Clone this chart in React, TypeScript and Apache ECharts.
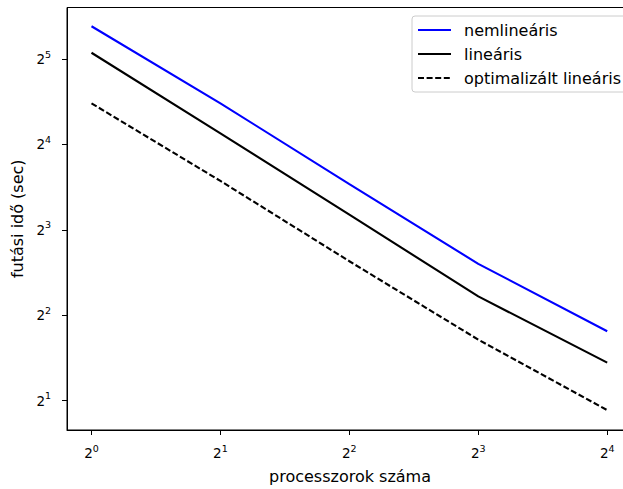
import React, { useEffect, useRef } from "react";
import * as echarts from "echarts";

const processors = [1, 2, 4, 8, 16];
const nemlinearis = [41.8, 22.35, 11.6, 6.07, 3.51];
const linearis = [33.7, 17.5, 9.05, 4.66, 2.72];
const optimalizalt = [22.35, 11.9, 6.2, 3.28, 1.85];
const xTicks = [1, 2, 4, 8, 16];
const yTicks = [2, 4, 8, 16, 32];
const seriesNames = ["nemlineáris", "lineáris", "optimalizált lineáris"];

const powLabel = (v: number) => {
  const e = Math.round(Math.log2(v));
  return "{b|2}{s|" + e + "}";
};

const FONT = "DejaVu Sans";
const richPow = {
  b: { fontFamily: FONT, fontSize: 13.5, color: "#000", lineHeight: 20, verticalAlign: "middle" },
  s: { fontFamily: FONT, fontSize: 9.5, color: "#000", lineHeight: 7, verticalAlign: "top" },
};

export default function App() {
  const ref = useRef<HTMLDivElement>(null);
  useEffect(() => {
    if (!ref.current) return;
    const chart = echarts.init(ref.current, null, { renderer: "svg" });
    const toPairs = (ys: number[]) => processors.map((x, i) => [x, ys[i]]);
    const axisCommon = {
      type: "log" as const,
      logBase: 2,
      splitLine: { show: false },
      axisLine: { show: true, lineStyle: { color: "#000", width: 1 } },
      axisTick: { show: true, length: 5, lineStyle: { color: "#000", width: 1 } },
      nameLocation: "middle" as const,
      nameTextStyle: { fontFamily: FONT, fontSize: 16, color: "#000" },
    };
    chart.setOption({
      animation: false,
      textStyle: { fontFamily: FONT },
      grid: {
        left: 67,
        top: 7.5,
        width: 566,
        height: 423.5,
        show: true,
        borderColor: "#000",
        borderWidth: 1,
        backgroundColor: "transparent",
      },
      legend: {
        orient: "vertical",
        left: 412,
        top: 16,
        itemWidth: 33,
        itemHeight: 16,
        itemGap: 8,
        padding: [6, 8, 6, 5],
        backgroundColor: "rgba(255,255,255,0.8)",
        borderColor: "#cccccc",
        borderWidth: 1,
        borderRadius: 3,
        itemStyle: { opacity: 0 },
        textStyle: {
          fontFamily: FONT,
          fontSize: 16,
          color: "#000",
          padding: [0, 0, 0, 8],
        },
        data: seriesNames,
      },
      xAxis: {
        ...axisCommon,
        min: Math.pow(2, -0.19),
        max: Math.pow(2, 4.2),
        name: "processzorok száma",
        nameGap: 38,
        axisTick: { ...axisCommon.axisTick, customValues: xTicks },
        axisLabel: {
          customValues: xTicks,
          formatter: (v: number) => powLabel(v),
          margin: 13,
          rich: richPow,
        },
      },
      yAxis: {
        ...axisCommon,
        min: Math.pow(2, 0.655),
        max: Math.pow(2, 5.605),
        name: "futási idő (sec)",
        nameGap: 40,
        axisTick: { ...axisCommon.axisTick, customValues: yTicks },
        axisLabel: {
          customValues: yTicks,
          formatter: (v: number) => powLabel(v),
          margin: 16,
          rich: richPow,
        },
      },
      series: [
        {
          name: seriesNames[0],
          type: "line",
          data: toPairs(nemlinearis),
          symbol: "none",
          lineStyle: { color: "#0000ff", width: 2.1 },
          itemStyle: { color: "#0000ff" },
        },
        {
          name: seriesNames[1],
          type: "line",
          data: toPairs(linearis),
          symbol: "none",
          lineStyle: { color: "#000000", width: 2.1 },
          itemStyle: { color: "#000000" },
        },
        {
          name: seriesNames[2],
          type: "line",
          data: toPairs(optimalizalt),
          symbol: "none",
          lineStyle: { color: "#000000", width: 2.1, type: [6, 2.6] },
          itemStyle: { color: "#000000" },
        },
      ],
    });
    return () => chart.dispose();
  }, []);
  return (
    <div
      style={{
        position: "absolute",
        left: 0,
        top: 0,
        width: 623,
        height: 489,
        overflow: "hidden",
        background: "#fff",
      }}
    >
      <div ref={ref} style={{ width: 640, height: 489 }} />
    </div>
  );
}
